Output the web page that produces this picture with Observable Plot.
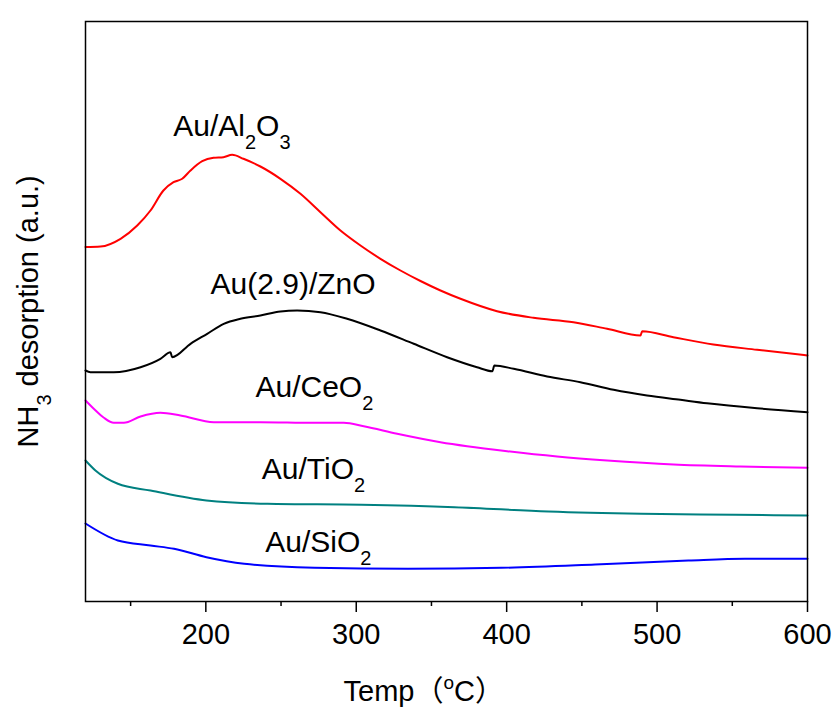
<!DOCTYPE html>
<html>
<head>
<meta charset="utf-8">
<script src="https://cdn.jsdelivr.net/npm/d3@7"></script>
<script src="https://cdn.jsdelivr.net/npm/@observablehq/plot@0.6"></script>
<style>
  html, body { margin: 0; padding: 0; background: #fff; }
  svg { display: block; font-family: "Liberation Sans", Arial, "Noto Sans CJK SC", sans-serif; }
</style>
</head>
<body>
<div id="chart"></div>
<script>
// Temperature (°C) and NH3 desorption signal (a.u., offset curves)
const alTemp = [120, 130, 143.3, 154.4, 163.2, 171.8, 178.5, 184.3, 189.8, 197.6, 205.1, 211.7, 217.5, 225, 236.3, 249.6, 262.9, 276.2, 289.5, 302.8, 316.1, 329.4, 342.7, 356, 369.3, 393.6, 417.8, 444.4, 466.8, 489, 490.1, 510.8, 537.4, 566.5, 600];
const alVal  = [354.5, 355, 362.7, 376, 391, 411, 419.3, 422.7, 431, 440.3, 443.7, 444.3, 446.7, 442.7, 435, 422.7, 407.7, 389.3, 371, 356, 342.7, 331, 320.5, 311, 302.7, 290.3, 283.7, 279.3, 272.7, 266, 270.3, 264.3, 257, 251.7, 246];

const znTemp = [120, 123.3, 138.8, 156.6, 169.8, 176.5, 177.6, 189.8, 200.9, 211.9, 223, 236.3, 249.6, 260.7, 276.2, 293.9, 316.1, 338.2, 360.4, 380.3, 390.5, 391.8, 404.7, 426.9, 449, 471.1, 493.3, 515.5, 533.2, 566.5, 600];
const znVal  = [231, 229.3, 229.3, 234.3, 242.7, 249.3, 244.3, 257.7, 267.7, 277.7, 282.7, 286, 290, 291, 289.3, 282.7, 271, 257.7, 244.3, 234.3, 230.3, 236, 232.7, 225, 219.3, 211.7, 206, 201.7, 198.3, 193.3, 189.3];

const ceTemp = [120, 125.5, 132.2, 138.8, 145.5, 156.6, 169.8, 183.1, 205.3, 236.3, 271.7, 291.7, 305, 327.2, 356, 373.7, 400.3, 433.5, 466.8, 511, 555.3, 600];
const ceVal  = [201, 192.7, 183.7, 178.7, 178.7, 185, 188.7, 186, 179.3, 179.3, 178.7, 178.7, 175.3, 167.7, 159.3, 155.3, 150.3, 145, 141, 137, 135, 133.7];

const tiTemp = [120, 126.6, 141.5, 163.2, 200.4, 241, 303.4, 365.3, 427.7, 489.5, 552, 600];
const tiVal  = [141, 131, 117.7, 111, 101, 97.7, 96.7, 94.3, 90, 87.7, 86.7, 86];

const siTemp = [120, 141.5, 163.2, 178.9, 200.4, 225.5, 272.2, 334.4, 396.5, 458.8, 520.8, 558.4, 600];
const siVal  = [78, 61, 56, 52.7, 44.3, 37.7, 33.7, 32.7, 33.7, 37, 41, 42.7, 42.7];

const seriesNames  = ["Au/Al2O3", "Au(2.9)/ZnO", "Au/CeO2", "Au/TiO2", "Au/SiO2"];
const seriesColors = ["#ff0000", "#000000", "#ff00ff", "#008080", "#0000ff"];

// Curve labels (markup: _{..} subscript) and where they sit (temperature, signal)
const labelText = ["Au/Al_{2}O_{3}", "Au(2.9)/ZnO", "Au/CeO_{2}", "Au/TiO_{2}", "Au/SiO_{2}"];
const labelTemp = [178.3, 203.1, 233, 237.2, 239.5];
const labelVal  = [466, 308, 205, 123, 49.3];

const majorTicks = [200, 300, 400, 500, 600];
const minorTicks = [150, 250, 350, 450, 550];

const xLabel = "Temp（^{o}C）";
const yLabel = "NH_{3} desorption (a.u.)";

const temps = [alTemp, znTemp, ceTemp, tiTemp, siTemp];
const vals  = [alVal, znVal, ceVal, tiVal, siVal];
const rows = [];
temps.forEach((ts, k) => ts.forEach((t, i) => rows.push({T: t, v: vals[k][i], s: seriesNames[k]})));
const labels = labelText.map((t, i) => ({text: t, T: labelTemp[i], v: labelVal[i]}));

const svg = Plot.plot({
  width: 836,
  height: 713,
  marginLeft: 85,
  marginRight: 29,
  marginTop: 21,
  marginBottom: 112,
  style: {color: "black", background: "white"},
  x: {domain: [120, 600]},
  y: {domain: [0, 580], axis: null},
  color: {domain: seriesNames, range: seriesColors},
  marks: [
    Plot.line(rows, {x: "T", y: "v", z: "s", stroke: "s", strokeWidth: 2, curve: "monotone-x"}),
    Plot.frame({stroke: "black", strokeWidth: 1.5}),
    Plot.axisX({ticks: majorTicks, tickSize: 11, tickPadding: 11, fontSize: 29, strokeWidth: 1.5, tickFormat: d => String(d), label: null}),
    Plot.axisX({ticks: minorTicks, tickSize: 5, strokeWidth: 1.5, tickFormat: () => "", label: null}),
    Plot.text(labels, {x: "T", y: "v", text: "text", textAnchor: "start", lineAnchor: "bottom", fontSize: 30, fill: "black"}),
    Plot.text([xLabel], {frameAnchor: "bottom-left", textAnchor: "start", lineAnchor: "bottom", dx: 258, dy: 99, fontSize: 29, fill: "black"}),
    Plot.text([yLabel], {frameAnchor: "bottom-left", textAnchor: "start", lineAnchor: "bottom", rotate: -90, dx: -48, dy: -154, fontSize: 29, fill: "black"})
  ]
});

// rich text: _{..} subscript, ^{..} superscript
const NS = "http://www.w3.org/2000/svg";
svg.querySelectorAll("text").forEach(el => {
  const s = el.textContent;
  if (!/[_^]\{/.test(s)) return;
  const re = /([_^])\{([^}]*)\}|([^_^]+)/g;
  let m, shift = 0;
  el.textContent = "";
  while ((m = re.exec(s))) {
    const ts = document.createElementNS(NS, "tspan");
    let target = 0;
    if (m[1] === "_") { target = 13; ts.setAttribute("font-size", 20); ts.textContent = m[2]; }
    else if (m[1] === "^") { target = -12; ts.setAttribute("font-size", 19); ts.textContent = m[2]; }
    else { ts.textContent = m[3]; }
    const dy = target - shift;
    if (dy !== 0) ts.setAttribute("dy", dy);
    shift = target;
    el.appendChild(ts);
  }
});

document.getElementById("chart").appendChild(svg);
</script>
</body>
</html>
